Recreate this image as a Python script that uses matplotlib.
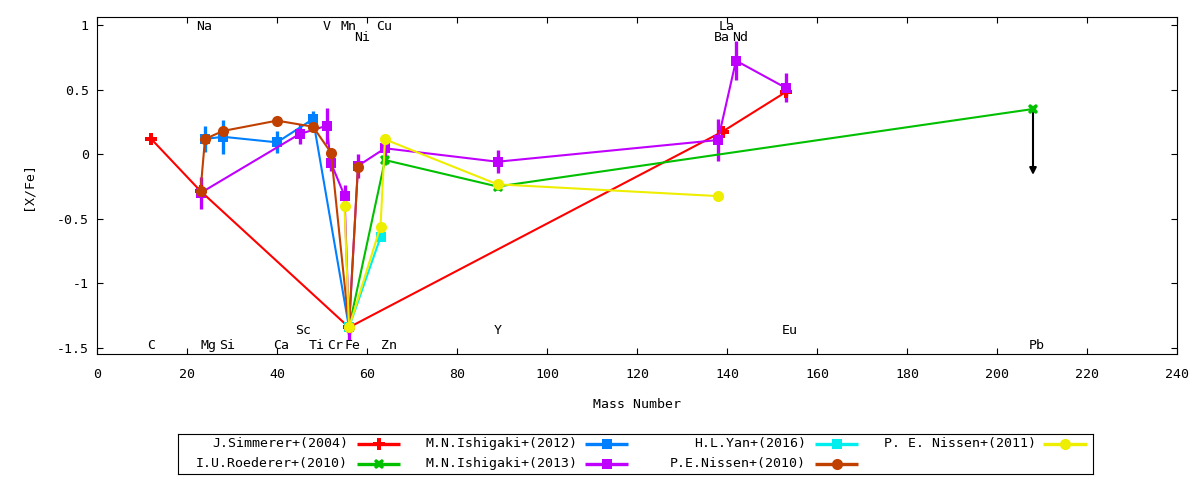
"""[X/Fe] abundance pattern versus mass number, gnuplot-style."""

import matplotlib
matplotlib.use('Agg')
import matplotlib.pyplot as plt

plt.rcParams['font.family'] = ['DejaVu Sans Mono', 'DejaVu Sans']
plt.rcParams['font.size'] = 9.5
plt.rcParams['axes.unicode_minus'] = False

# mass number used for each element
MASS = {'C': 12, 'Na': 23, 'Mg': 24, 'Si': 28, 'Ca': 40, 'Sc': 45, 'Ti': 48,
        'V': 51, 'Cr': 52, 'Mn': 55, 'Fe': 56, 'Ni': 58, 'Cu': 63, 'Zn': 64,
        'Y': 89, 'Ba': 138, 'La': 139, 'Nd': 142, 'Eu': 153, 'Pb': 208}

simmerer_el = ['C', 'Na', 'Fe', 'La', 'Eu']
simmerer_val = [0.12, -0.285, -1.34, 0.175, 0.48]
simmerer_err = [0.02, 0.02, 0.02, 0.03, 0.03]

roederer_el = ['Fe', 'Zn', 'Y', 'Pb']
roederer_val = [-1.34, -0.045, -0.25, 0.35]
roederer_err = [0.05, 0.04, 0.03, 0.02]
roederer_pb_limit = -0.16

ishigaki12_el = ['Mg', 'Si', 'Ca', 'Ti', 'Fe']
ishigaki12_val = [0.118, 0.135, 0.092, 0.272, -1.34]
ishigaki12_err = [0.10, 0.13, 0.085, 0.065, 0.05]

ishigaki13_el = ['Na', 'Sc', 'V', 'Cr', 'Mn', 'Fe', 'Ni', 'Zn', 'Y', 'Ba',
                 'Nd', 'Eu']
ishigaki13_val = [-0.30, 0.156, 0.22, -0.068, -0.32, -1.34, -0.09, 0.046,
                  -0.058, 0.11, 0.724, 0.515]
ishigaki13_err = [0.12, 0.075, 0.14, 0.06, 0.08, 0.10, 0.095, 0.09, 0.087,
                  0.16, 0.15, 0.11]

yan_el = ['Fe', 'Cu']
yan_val = [-1.34, -0.643]
yan_err = [0.03, 0.03]

nissen10_el = ['Na', 'Mg', 'Si', 'Ca', 'Ti', 'Cr', 'Fe', 'Ni']
nissen10_val = [-0.285, 0.118, 0.18, 0.26, 0.213, 0.012, -1.34, -0.097]
nissen10_err = [0.03, 0.03, 0.03, 0.03, 0.03, 0.03, 0.03, 0.03]

nissen11_el = ['Mn', 'Fe', 'Cu', 'Zn', 'Y', 'Ba']
nissen11_val = [-0.40, -1.34, -0.56, 0.115, -0.233, -0.324]
nissen11_err = [0.02, 0.02, 0.02, 0.02, 0.02, 0.02]

# element labels and the row each one sits on
label_names = ['C', 'Na', 'Mg', 'Si', 'Ca', 'Sc', 'Ti', 'V', 'Cr', 'Mn', 'Fe',
               'Ni', 'Cu', 'Zn', 'Y', 'Ba', 'La', 'Nd', 'Eu', 'Pb']
label_row = {'Na': 'top', 'V': 'top', 'Mn': 'top', 'Cu': 'top', 'La': 'top',
             'Ni': 'top2', 'Ba': 'top2', 'Nd': 'top2',
             'Sc': 'low2', 'Y': 'low2', 'Eu': 'low2'}
ROW_Y = {'top': 0.985, 'top2': 0.907, 'low2': -1.368, 'low': -1.477}

series = [
    ('J.Simmerer+(2004)', simmerer_el, simmerer_val, simmerer_err,
     '#ff0000', 'P', 8),
    ('I.U.Roederer+(2010)', roederer_el, roederer_val, roederer_err,
     '#00c000', 'X', 7.5),
    ('M.N.Ishigaki+(2012)', ishigaki12_el, ishigaki12_val, ishigaki12_err,
     '#0080ff', 's', 7),
    ('M.N.Ishigaki+(2013)', ishigaki13_el, ishigaki13_val, ishigaki13_err,
     '#c000ff', 's', 7),
    ('H.L.Yan+(2016)', yan_el, yan_val, yan_err, '#00eeee', 's', 7),
    ('P.E.Nissen+(2010)', nissen10_el, nissen10_val, nissen10_err,
     '#c04000', 'o', 8),
    ('P. E. Nissen+(2011)', nissen11_el, nissen11_val, nissen11_err,
     '#eeee00', 'o', 8),
]

W, H = 1200, 480
fig = plt.figure(figsize=(W / 100, H / 100), dpi=100)
ax = fig.add_axes([97 / W, 1 - 354 / H, 1080 / W, 337 / H])

for label, els, vals, errs, color, marker, ms in series:
    xs = [MASS[e] for e in els]
    ax.errorbar(xs, vals, yerr=errs, color=color, marker=marker, ms=ms,
                mew=0, lw=1.5, elinewidth=2.4, capsize=3, capthick=2.6)

# upper limit on Pb
ax.annotate('', xy=(MASS['Pb'], roederer_pb_limit),
            xytext=(MASS['Pb'], roederer_val[-1]),
            arrowprops=dict(arrowstyle='-|>', color='black', lw=1.5,
                            mutation_scale=10, shrinkA=3, shrinkB=0))

for name in label_names:
    ax.annotate(name, (MASS[name], ROW_Y[label_row.get(name, 'low')]),
                xytext=(-3, 0), textcoords='offset points',
                ha='left', va='center')

ax.set_xlim(0, 240)
ax.set_ylim(-1.546, 1.062)
ax.set_xticks(range(0, 241, 20))
ax.set_yticks([-1.5, -1, -0.5, 0, 0.5, 1])
ax.set_yticklabels(['-1.5', '-1', '-0.5', '0', '0.5', '1'])
ax.tick_params(direction='in', top=True, right=True, length=4.5, width=0.8)
ax.tick_params(axis='x', pad=10)
ax.tick_params(axis='y', pad=6)
ax.set_xlabel('Mass Number')
ax.xaxis.set_label_coords(0.5, -0.13)
ax.set_ylabel('[X/Fe]')
ax.yaxis.set_label_coords(-0.058, 0.5)

# gnuplot-like key: text right-aligned, then an errorbar sample
lax = fig.add_axes([178 / W, 6 / H, 915 / W, 40 / H])
lax.set_xlim(178, 1093)
lax.set_ylim(474, 434)
lax.set_xticks([])
lax.set_yticks([])
key_cols = [(348, 357, 400), (578, 585, 628), (806, 815, 858),
            (1036, 1043, 1087)]
key_rows = [444, 464]
for i, (label, els, vals, errs, color, marker, ms) in enumerate(series):
    col, row = divmod(i, 2)
    tx, x0, x1 = key_cols[col]
    yy = key_rows[row]
    lax.text(tx, yy, label, ha='right', va='center')
    lax.errorbar([(x0 + x1) / 2], [yy], xerr=[(x1 - x0) / 2], color=color,
                 marker=marker, ms=ms, mew=0, elinewidth=2.4, capsize=3,
                 capthick=2.6)

fig.savefig('out.png', dpi=100)
